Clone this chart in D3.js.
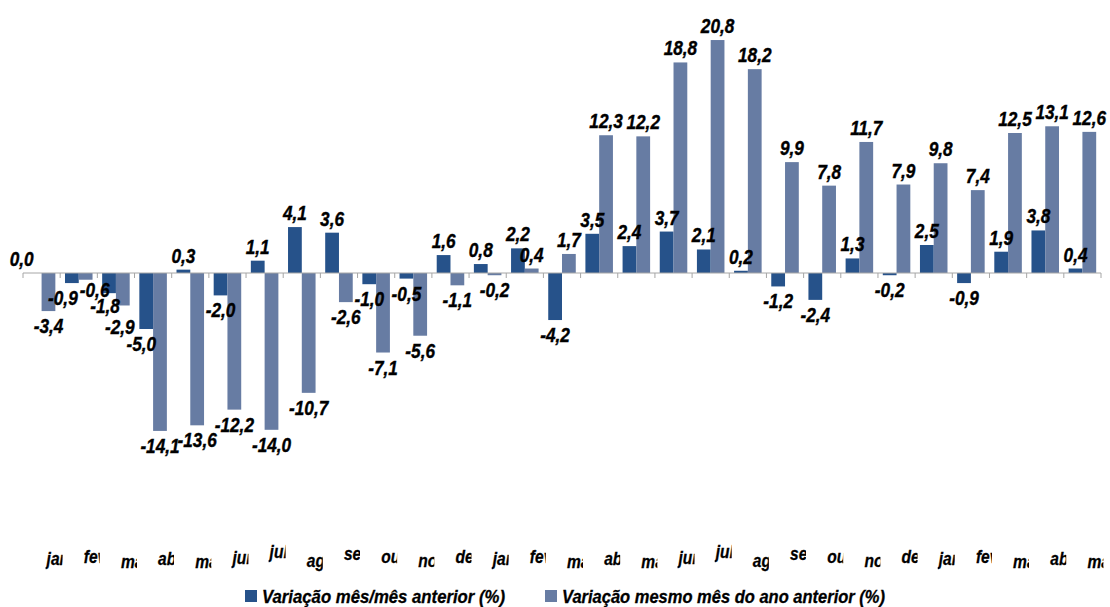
<!DOCTYPE html>
<html>
<head>
<meta charset="utf-8">
<script src="https://cdn.jsdelivr.net/npm/d3@7"></script>
<style>
  body { margin: 0; background: #fff; }
  svg text { font-family: "Liberation Sans", Arial, sans-serif; font-weight: bold; font-style: italic; }
</style>
</head>
<body>
<div id="chart"></div>
<script>
var months = ["jan", "fev", "mar", "abr", "mai", "jun", "jul", "ago", "set", "out", "nov", "dez",
  "jan", "fev", "mar", "abr", "mai", "jun", "jul", "ago", "set", "out", "nov", "dez",
  "jan", "fev", "mar", "abr", "mai"];
var monthOnMonth = [0.0, -0.9, -1.8, -5.0, 0.3, -2.0, 1.1, 4.1, 3.6, -1.0, -0.5, 1.6,
  0.8, 2.2, -4.2, 3.5, 2.4, 3.7, 2.1, 0.2, -1.2, -2.4, 1.3, -0.2,
  2.5, -0.9, 1.9, 3.8, 0.4];
var yearOnYear = [-3.4, -0.6, -2.9, -14.1, -13.6, -12.2, -14.0, -10.7, -2.6, -7.1, -5.6, -1.1,
  -0.2, 0.4, 1.7, 12.3, 12.2, 18.8, 20.8, 18.2, 9.9, 7.8, 11.7, 7.9,
  9.8, 7.4, 12.5, 13.1, 12.6];
var seriesNames = ["Variação mês/mês anterior (%)", "Variação mesmo mês do ano anterior (%)"];
var colors = ["#26528a", "#677ca3"];

var width = 1110, height = 607;
var narrow = 0.82; // fake a narrow face (Arial Narrow look)

var svg = d3.select("#chart").append("svg")
  .attr("width", width)
  .attr("height", height);

var idx = d3.range(months.length);
var x = d3.scaleBand().domain(idx).range([23, 1101]).paddingInner(0).paddingOuter(0);
var xs = d3.scaleBand().domain([0, 1]).range([0, x.bandwidth()]).paddingInner(0).paddingOuter(0.35);
var y = d3.scaleLinear().domain([-24, 24]).range([273 + 24 * 11.2, 273 - 24 * 11.2]);

var fmt = function(v) { return v.toFixed(1).replace(".", ","); };

// bars
[monthOnMonth, yearOnYear].forEach(function(vals, s) {
  svg.append("g").selectAll("rect")
    .data(vals)
    .enter()
    .append("rect")
    .attr("x", function(d, i) { return x(i) + xs(s); })
    .attr("width", xs.bandwidth())
    .attr("y", function(d) { return y(Math.max(0, d)); })
    .attr("height", function(d) { return Math.abs(y(d) - y(0)); })
    .attr("fill", colors[s]);
});

// axis line with ticks between categories
var axis = svg.append("g");
axis.append("line")
  .attr("x1", x.range()[0]).attr("x2", x.range()[1])
  .attr("y1", y(0)).attr("y2", y(0))
  .attr("stroke", "#a6a6a6").attr("stroke-width", 1);
axis.selectAll("line.tick")
  .data(idx.concat([months.length]))
  .enter()
  .append("line")
  .attr("class", "tick")
  .attr("x1", function(i) { return x.range()[0] + i * x.step(); })
  .attr("x2", function(i) { return x.range()[0] + i * x.step(); })
  .attr("y1", y(0)).attr("y2", y(0) + 5)
  .attr("stroke", "#a6a6a6");

// value labels; a few are pushed aside where they crowd, like in the original
var nudge = { "0-0": [-13, 0], "0-1": [-9, 0], "1-1": [9, -5], "0-2": [-4, -2], "1-2": [-3, 7], "0-3": [-5, 0] };
[monthOnMonth, yearOnYear].forEach(function(vals, s) {
  svg.append("g").selectAll("text")
    .data(vals)
    .enter()
    .append("text")
    .attr("transform", function(d, i) {
      var n = nudge[s + "-" + i] || [0, 0];
      var lx = x(i) + xs(s) + xs.bandwidth() / 2 + n[0];
      var ly = (d >= 0 ? y(d) - 7 : y(d) + 22) + n[1];
      return "translate(" + lx + "," + ly + ") scale(" + narrow + ",1)";
    })
    .attr("text-anchor", "middle")
    .attr("font-size", 21)
    .attr("fill", "#000")
    .attr("stroke", "#000")
    .attr("stroke-width", 0.4)
    .text(fmt);
});

// category labels, clipped like the original
var labelDy = { jan: 0, fev: -2, mar: 3, abr: 0, mai: 3, jun: -1, jul: -7, ago: 2, set: -5, out: -2, nov: 2, dez: -2 };
var defs = svg.append("defs");
idx.forEach(function(i) {
  defs.append("clipPath").attr("id", "clip" + i)
    .append("rect")
    .attr("x", x(i) + x.bandwidth() / 2 + 4)
    .attr("y", 520)
    .attr("width", 17)
    .attr("height", 60);
});
svg.append("g").selectAll("g")
  .data(months)
  .enter()
  .append("g")
  .attr("clip-path", function(d, i) { return "url(#clip" + i + ")"; })
  .append("text")
  .attr("transform", function(d, i) {
    return "translate(" + (x(i) + x.bandwidth() / 2 + 5) + "," + (565 + labelDy[d]) + ") scale(" + narrow + ",1)";
  })
  .attr("font-size", 19)
  .attr("stroke", "#000")
  .attr("stroke-width", 0.3)
  .text(function(d) { return d; });

// legend
var legendX = [245, 545];
var legendW = [243, 323];
var legend = svg.append("g").selectAll("g")
  .data(seriesNames)
  .enter()
  .append("g")
  .attr("transform", function(d, i) { return "translate(" + legendX[i] + ",590)"; });
legend.append("rect")
  .attr("width", 12).attr("height", 12)
  .attr("fill", function(d, i) { return colors[i]; });
legend.append("text")
  .attr("x", 17).attr("y", 13)
  .attr("font-size", 18)
  .attr("stroke", "#000")
  .attr("stroke-width", 0.3)
  .attr("textLength", function(d, i) { return legendW[i]; })
  .attr("lengthAdjust", "spacingAndGlyphs")
  .text(function(d) { return d; });
</script>
</body>
</html>
